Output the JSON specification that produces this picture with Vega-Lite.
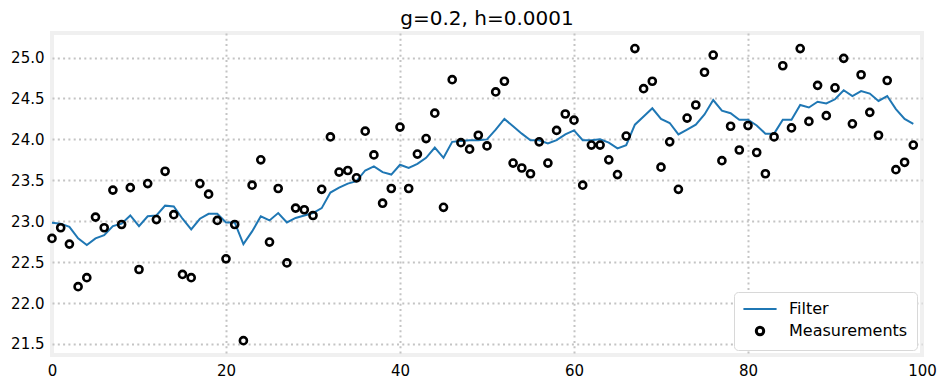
{
  "$schema": "https://vega.github.io/schema/vega-lite/v6.json",
  "width": 870,
  "height": 322,
  "autosize": "none",
  "padding": {"left": 52, "top": 33, "right": 25, "bottom": 32},
  "background": "white",
  "title": {"text": "g=0.2, h=0.0001", "font": "DejaVu Sans", "fontSize": 20, "fontWeight": "normal", "color": "#000000", "anchor": "middle", "offset": 4},
  "config": {
    "view": {"stroke": "#f0f0f0", "strokeWidth": 4},
    "axis": {"domain": false, "ticks": false, "labelFont": "DejaVu Sans", "labelFontSize": 15, "labelColor": "#000000", "gridColor": "#c4c4c4", "gridWidth": 2, "gridDash": [2, 3.3], "title": null, "labelPadding": 8}
  },
  "datasets": {
    "filt": [
      {"t":0,"v":22.98},{"t":1,"v":22.97},{"t":2,"v":22.93},{"t":3,"v":22.79},{"t":4,"v":22.71},{"t":5,"v":22.79},{"t":6,"v":22.83},{"t":7,"v":22.94},{"t":8,"v":22.97},{"t":9,"v":23.07},
      {"t":10,"v":22.94},{"t":11,"v":23.06},{"t":12,"v":23.07},{"t":13,"v":23.19},{"t":14,"v":23.18},{"t":15,"v":23.03},{"t":16,"v":22.9},{"t":17,"v":23.03},{"t":18,"v":23.09},{"t":19,"v":23.09},
      {"t":20,"v":22.985},{"t":21,"v":22.985},{"t":22,"v":22.72},{"t":23,"v":22.875},{"t":24,"v":23.06},{"t":25,"v":23.01},{"t":26,"v":23.1},{"t":27,"v":22.985},{"t":28,"v":23.04},{"t":29,"v":23.07},
      {"t":30,"v":23.1},{"t":31,"v":23.16},{"t":32,"v":23.35},{"t":33,"v":23.41},{"t":34,"v":23.46},{"t":35,"v":23.49},{"t":36,"v":23.62},{"t":37,"v":23.67},{"t":38,"v":23.6},{"t":39,"v":23.57},
      {"t":40,"v":23.69},{"t":41,"v":23.65},{"t":42,"v":23.7},{"t":43,"v":23.775},{"t":44,"v":23.9},{"t":45,"v":23.775},{"t":46,"v":23.97},{"t":47,"v":23.98},{"t":48,"v":23.99},{"t":49,"v":23.99},
      {"t":50,"v":24.0},{"t":51,"v":24.12},{"t":52,"v":24.25},{"t":53,"v":24.16},{"t":54,"v":24.07},{"t":55,"v":23.99},{"t":56,"v":23.99},{"t":57,"v":23.95},{"t":58,"v":23.99},{"t":59,"v":24.06},
      {"t":60,"v":24.11},{"t":61,"v":23.99},{"t":62,"v":23.99},{"t":63,"v":24.0},{"t":64,"v":23.96},{"t":65,"v":23.89},{"t":66,"v":23.93},{"t":67,"v":24.18},{"t":68,"v":24.28},{"t":69,"v":24.38},
      {"t":70,"v":24.25},{"t":71,"v":24.2},{"t":72,"v":24.06},{"t":73,"v":24.12},{"t":74,"v":24.18},{"t":75,"v":24.305},{"t":76,"v":24.48},{"t":77,"v":24.35},{"t":78,"v":24.32},{"t":79,"v":24.24},
      {"t":80,"v":24.24},{"t":81,"v":24.17},{"t":82,"v":24.07},{"t":83,"v":24.07},{"t":84,"v":24.24},{"t":85,"v":24.24},{"t":86,"v":24.42},{"t":87,"v":24.39},{"t":88,"v":24.46},{"t":89,"v":24.44},
      {"t":90,"v":24.49},{"t":91,"v":24.6},{"t":92,"v":24.53},{"t":93,"v":24.59},{"t":94,"v":24.56},{"t":95,"v":24.47},{"t":96,"v":24.53},{"t":97,"v":24.37},{"t":98,"v":24.25},{"t":99,"v":24.19}
    ],
    "meas": [
      {"t":0,"v":22.79},{"t":1,"v":22.92},{"t":2,"v":22.72},{"t":3,"v":22.2},{"t":4,"v":22.31},{"t":5,"v":23.05},{"t":6,"v":22.92},{"t":7,"v":23.38},{"t":8,"v":22.96},{"t":9,"v":23.41},
      {"t":10,"v":22.41},{"t":11,"v":23.46},{"t":12,"v":23.02},{"t":13,"v":23.61},{"t":14,"v":23.08},{"t":15,"v":22.35},{"t":16,"v":22.31},{"t":17,"v":23.46},{"t":18,"v":23.33},{"t":19,"v":23.01},
      {"t":20,"v":22.54},{"t":21,"v":22.96},{"t":22,"v":21.54},{"t":23,"v":23.44},{"t":24,"v":23.75},{"t":25,"v":22.745},{"t":26,"v":23.4},{"t":27,"v":22.49},{"t":28,"v":23.16},{"t":29,"v":23.14},
      {"t":30,"v":23.07},{"t":31,"v":23.39},{"t":32,"v":24.03},{"t":33,"v":23.6},{"t":34,"v":23.62},{"t":35,"v":23.53},{"t":36,"v":24.1},{"t":37,"v":23.81},{"t":38,"v":23.22},{"t":39,"v":23.4},
      {"t":40,"v":24.15},{"t":41,"v":23.4},{"t":42,"v":23.82},{"t":43,"v":24.01},{"t":44,"v":24.32},{"t":45,"v":23.17},{"t":46,"v":24.73},{"t":47,"v":23.96},{"t":48,"v":23.88},{"t":49,"v":24.05},
      {"t":50,"v":23.92},{"t":51,"v":24.58},{"t":52,"v":24.71},{"t":53,"v":23.71},{"t":54,"v":23.65},{"t":55,"v":23.58},{"t":56,"v":23.97},{"t":57,"v":23.71},{"t":58,"v":24.11},{"t":59,"v":24.31},
      {"t":60,"v":24.235},{"t":61,"v":23.44},{"t":62,"v":23.93},{"t":63,"v":23.93},{"t":64,"v":23.75},{"t":65,"v":23.57},{"t":66,"v":24.04},{"t":67,"v":25.11},{"t":68,"v":24.62},{"t":69,"v":24.71},
      {"t":70,"v":23.66},{"t":71,"v":23.97},{"t":72,"v":23.39},{"t":73,"v":24.26},{"t":74,"v":24.42},{"t":75,"v":24.82},{"t":76,"v":25.03},{"t":77,"v":23.74},{"t":78,"v":24.16},{"t":79,"v":23.87},
      {"t":80,"v":24.17},{"t":81,"v":23.84},{"t":82,"v":23.58},{"t":83,"v":24.03},{"t":84,"v":24.9},{"t":85,"v":24.14},{"t":86,"v":25.11},{"t":87,"v":24.22},{"t":88,"v":24.66},{"t":89,"v":24.29},
      {"t":90,"v":24.63},{"t":91,"v":24.99},{"t":92,"v":24.19},{"t":93,"v":24.79},{"t":94,"v":24.33},{"t":95,"v":24.05},{"t":96,"v":24.72},{"t":97,"v":23.63},{"t":98,"v":23.72},{"t":99,"v":23.93}
    ]
  },
  "encoding": {
    "x": {"field": "t", "type": "quantitative", "scale": {"domain": [0, 100], "nice": false, "zero": false},
      "axis": {"values": [0, 20, 40, 60, 80, 100], "labelFlush": false, "gridOpacity": {"condition": {"test": "datum.value == 0 || datum.value == 100", "value": 0}, "value": 1}}},
    "y": {"field": "v", "type": "quantitative", "scale": {"domain": [21.365, 25.3], "nice": false, "zero": false},
      "axis": {"values": [21.5, 22.0, 22.5, 23.0, 23.5, 24.0, 24.5, 25.0], "format": ".1f", "labelFlush": false}}
  },
  "layer": [
    {
      "data": {"name": "filt"},
      "transform": [{"calculate": "'Filter'", "as": "series"}],
      "mark": {"type": "line", "strokeWidth": 2},
      "encoding": {
        "color": {"field": "series", "type": "nominal", "scale": {"domain": ["Filter", "Measurements"], "range": ["#1f77b4", "#000000"]},
          "legend": {"title": null, "orient": "bottom-right", "offset": 5, "fillColor": "white", "strokeColor": "#d8d8d8", "cornerRadius": 4, "padding": 9, "labelFont": "DejaVu Sans", "labelFontSize": 16, "labelColor": "#000000", "rowPadding": 4, "labelOffset": 21, "symbolOffset": 9, "symbolStrokeWidth": 2.5,
            "encode": {"symbols": {"update": {"size": {"signal": "datum.value === 'Filter' ? 1100 : 55"}, "strokeWidth": {"signal": "datum.value === 'Filter' ? 2 : 3"}, "fill": {"value": "transparent"}}}}}}
      }
    },
    {
      "data": {"name": "meas"},
      "transform": [{"calculate": "'Measurements'", "as": "series"}],
      "mark": {"type": "point", "filled": false, "size": 50, "strokeWidth": 2.6, "opacity": 1},
      "encoding": {
        "color": {"field": "series", "type": "nominal"},
        "shape": {"field": "series", "type": "nominal", "scale": {"domain": ["Filter", "Measurements"], "range": ["stroke", "circle"]},
          "legend": {"title": null, "orient": "bottom-right"}}
      }
    }
  ]
}
